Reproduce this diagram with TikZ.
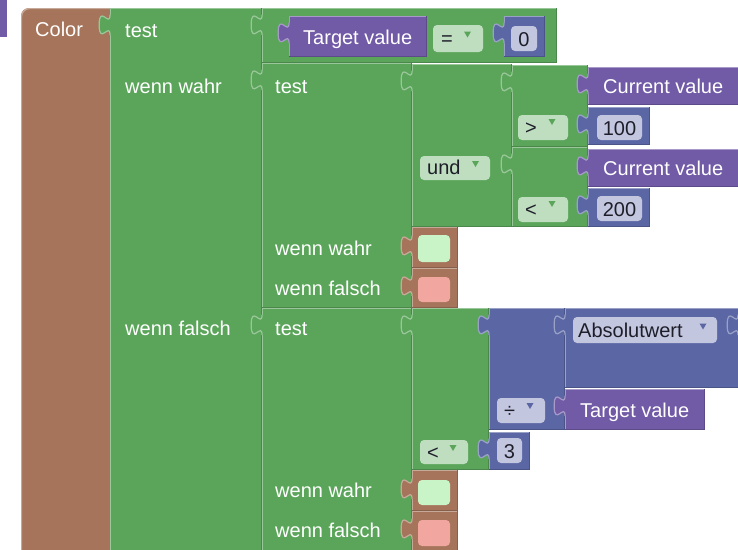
\documentclass[tikz,border=0pt]{standalone}
\usepackage{fontspec}
\setmainfont{Liberation Sans}
\definecolor{brownB}{HTML}{A5745B}
\definecolor{greenB}{HTML}{5BA55B}
\definecolor{purpleB}{HTML}{715AA6}
\definecolor{blueB}{HTML}{5B67A5}
\definecolor{fieldG}{HTML}{BFDDBF}
\definecolor{fieldB}{HTML}{C3C6DF}
\definecolor{swG}{HTML}{C8F4C8}
\definecolor{swR}{HTML}{F2A6A0}
\definecolor{textD}{HTML}{1E1E2A}
% block: x1 y1 x2 y2 colour
\newcommand{\blk}[5]{%
  \fill[#5] (#1,#2) rectangle (#3,#4);
  \draw[#5!62!white, line width=1.3] (#1+0.65,#4) -- (#1+0.65,#2+0.65) -- (#3,#2+0.65);
  \draw[#5!82!black, line width=0.8] (#3-0.4,#2) -- (#3-0.4,#4-0.4) -- (#1,#4-0.4);
}
% output tab: x y colour
\newcommand{\otab}[3]{%
  \fill[#3] (#1,#2+6.75) .. controls (#1,#2+20.25) and (#1-10.8,#2-4.05) .. (#1-10.8,#2+16.9) .. controls (#1-10.8,#2+37.8) and (#1,#2+13.5) .. (#1,#2+27) -- (#1+1.6,#2+27) -- (#1+1.6,#2+6.75) -- cycle;
  \draw[#3!62!white, line width=1.2] (#1,#2+6.75) .. controls (#1,#2+20.25) and (#1-10.8,#2-4.05) .. (#1-10.8,#2+16.9) .. controls (#1-10.8,#2+37.8) and (#1,#2+13.5) .. (#1,#2+27);
}
% dropdown triangle: centre x y colour
\newcommand{\tri}[3]{\fill[#3] (#1-3.5,#2-3) -- (#1+3.5,#2-3) -- (#1,#2+3) -- cycle;}
\begin{document}
\begin{tikzpicture}[x=1pt,y=-1pt,
  lbl/.style={anchor=base west, inner sep=0pt, text=white, font=\fontsize{20}{24}\selectfont},
  ftx/.style={anchor=base west, inner sep=0pt, text=textD, font=\fontsize{20}{24}\selectfont},
  ftc/.style={anchor=base, inner sep=0pt, text=textD, font=\fontsize{20}{24}\selectfont},
  fld/.style={rounded corners=4}]
\useasboundingbox (0,0) rectangle (738,549);
\fill[white] (0,0) rectangle (738,549);
\begin{scope}
\clip (0,0) rectangle (738,549);
% partial block top-left
\fill[purpleB] (0,0) rectangle (7,37);
% Color block
\fill[brownB, rounded corners=8] (21,8) rectangle (130,557);
\draw[brownB!62!white, line width=1.2, rounded corners=8] (21.6,557) -- (21.6,8.6) -- (130,8.6);
% outer ternary
\blk{110}{8}{262}{560}{greenB}
\otab{110}{8}{greenB}
% top compare
\blk{262}{8}{557}{63}{greenB}
\otab{262}{8}{greenB}
\blk{289}{16}{427}{57}{purpleB}
\otab{289}{16}{purpleB}
\fill[fieldG, fld] (433,25) rectangle (483,52);
\tri{467.5}{34.5}{greenB}
\blk{504}{16}{545}{57}{blueB}
\otab{504}{16}{blueB}
\fill[fieldB, fld] (511,26) rectangle (537,51);
% inner ternary 1
\blk{262}{63}{412}{308}{greenB}
\otab{262}{63}{greenB}
\blk{412}{64}{512}{227}{greenB}
\otab{412}{64}{greenB}
\fill[fieldG, fld] (420,156) rectangle (490,180);
\tri{475.5}{164}{greenB}
\blk{512}{65}{588}{147}{greenB}
\otab{512}{65}{greenB}
\fill[fieldG, fld] (518,115) rectangle (568,140);
\tri{552}{122}{greenB}
\blk{588}{67}{760}{105}{purpleB}
\otab{588}{67}{purpleB}
\blk{588}{107}{650}{145}{blueB}
\otab{588}{107}{blueB}
\fill[fieldB, fld] (597,115) rectangle (642,140);
\blk{512}{147}{588}{227}{greenB}
\otab{512}{147}{greenB}
\fill[fieldG, fld] (518,197) rectangle (568,222);
\tri{552}{204}{greenB}
\blk{588}{149}{760}{187}{purpleB}
\otab{588}{149}{purpleB}
\blk{588}{188}{650}{227}{blueB}
\otab{588}{188}{blueB}
\fill[fieldB, fld] (597,196) rectangle (642,221);
\blk{412}{227}{458}{268}{brownB}
\otab{412}{229}{brownB}
\fill[swG, fld] (418,235) rectangle (450,262);
\blk{412}{268}{458}{308}{brownB}
\otab{412}{269}{brownB}
\fill[swR, fld] (418,277) rectangle (450,302);
% inner ternary 2
\blk{262}{308}{412}{560}{greenB}
\otab{262}{308}{greenB}
\blk{412}{308}{489}{470}{greenB}
\otab{412}{308}{greenB}
\fill[fieldG, fld] (420,440) rectangle (468,464);
\tri{453}{448}{greenB}
\blk{489}{308}{565}{430}{blueB}
\otab{489}{308}{blueB}
\fill[fieldB, fld] (497,398) rectangle (545,423);
\tri{530}{406}{blueB}
\blk{565}{308}{760}{388}{blueB}
\otab{565}{308}{blueB}
\fill[fieldB, fld] (573,317) rectangle (717,343);
\tri{703}{326.5}{blueB}
\otab{738}{308}{blueB}
\blk{565}{389}{705}{430}{purpleB}
\otab{565}{389}{purpleB}
\blk{489}{432}{530}{470}{blueB}
\otab{489}{432}{blueB}
\fill[fieldB, fld] (497,438) rectangle (522,463);
\blk{412}{470}{458}{511}{brownB}
\otab{412}{472}{brownB}
\fill[swG, fld] (418,480) rectangle (450,505);
\blk{412}{511}{458}{560}{brownB}
\otab{412}{512}{brownB}
\fill[swR, fld] (418,520) rectangle (450,546);
% texts
\node[lbl] (color) at (35,36) {Color};
\node[lbl] (t1) at (125,37) {test};
\node[lbl] (ww1) at (125,93) {wenn wahr};
\node[lbl] (wf1) at (125,335) {wenn falsch};
\node[lbl] (tv1) at (303,44) {Target value};
\node[ftx] (eq) at (441,45) {=};
\node[ftc] (zero) at (524,46) {0};
\node[lbl] (t2) at (275,93) {test};
\node[ftx] (und) at (427,174) {und};
\node[ftx] (gt) at (525,134) {>};
\node[lbl] (cv1) at (603,93) {Current value};
\node[ftc] (n100) at (619.5,135) {100};
\node[ftx] (lt1) at (525,216) {<};
\node[lbl] (cv2) at (603,175) {Current value};
\node[ftc] (n200) at (619.5,216) {200};
\node[lbl] (ww2) at (275,255) {wenn wahr};
\node[lbl] (wf2) at (275,295) {wenn falsch};
\node[lbl] (t3) at (275,335) {test};
\node[ftx] (abs) at (578,337) {Absolutwert};
\node[ftx] (div) at (504,417) {÷};
\node[lbl] (tv2) at (580,417) {Target value};
\node[ftx] (lt2) at (427,459) {<};
\node[ftc] (three) at (509.5,458) {3};
\node[lbl] (ww3) at (275,497) {wenn wahr};
\node[lbl] (wf3) at (275,537) {wenn falsch};
\end{scope}
\end{tikzpicture}
\end{document}
